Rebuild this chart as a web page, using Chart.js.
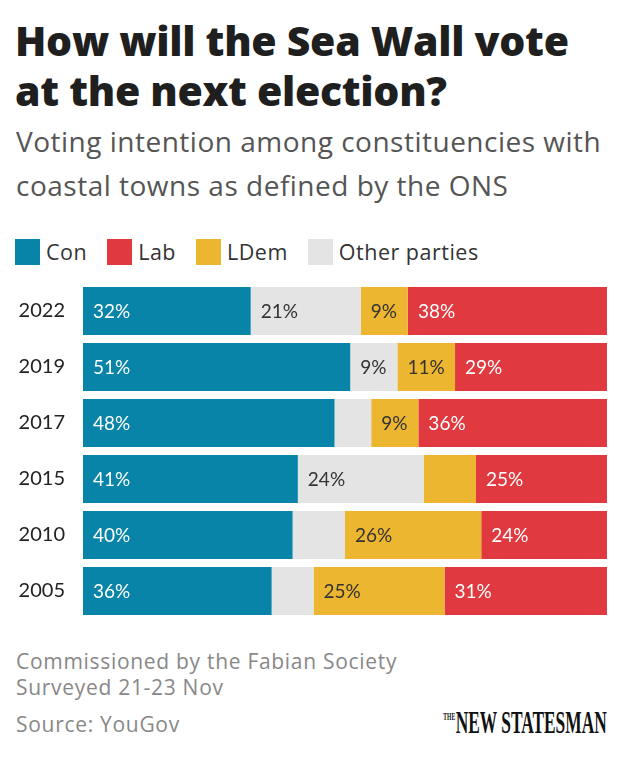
<!DOCTYPE html>
<html>
<head>
<meta charset="utf-8">
<script src="https://cdn.jsdelivr.net/npm/chart.js@4"></script>
<style>
  html, body { margin: 0; padding: 0; background: #fff; }
  body { width: 630px; height: 760px; position: relative; overflow: hidden; font-family: "Open Sans", "Noto Sans", sans-serif; }
  #title { position: absolute; left: 15px; top: 15px; font-size: 41px; font-weight: 800; line-height: 50px; color: #1f1f1f; letter-spacing: -0.3px; white-space: nowrap; }
  #subtitle { position: absolute; left: 16px; top: 119px; font-size: 28px; font-weight: 400; line-height: 44px; color: #555; letter-spacing: 0.5px; white-space: nowrap; }
  #legend { position: absolute; left: 15px; top: 237px; display: flex; align-items: center; font-size: 21.5px; letter-spacing: 0.5px; color: #333; }
  #legend .item { display: flex; align-items: center; margin-right: 20px; }
  #legend .sw { width: 25px; height: 26px; margin-right: 6px; }
  #chartWrap { position: absolute; left: 0; top: 283px; width: 630px; height: 336px; }
  #footer { position: absolute; left: 16px; top: 648px; font-size: 21px; color: #888; line-height: 26px; letter-spacing: 0.7px; white-space: nowrap; }
  #source { position: absolute; left: 16px; top: 710px; font-size: 21px; color: #888; letter-spacing: 0.7px; }
  #logo { position: absolute; right: 23px; top: 705px; font-family: "Liberation Serif", "DejaVu Serif", serif; font-weight: 700; color: #111; white-space: nowrap; transform-origin: right center; transform: scaleX(0.56); font-size: 31px; }
  #logo small { font-size: 10px; vertical-align: 13px; margin-right: 1px; }
</style>
</head>
<body>
<div id="title">How will the Sea Wall vote<br>at the next election?</div>
<div id="subtitle">Voting intention among constituencies with<br>coastal towns as defined by the ONS</div>
<div id="legend"></div>
<div id="chartWrap"><canvas id="c" width="630" height="336"></canvas></div>
<div id="footer">Commissioned by the Fabian Society<br>Surveyed 21-23 Nov</div>
<div id="source">Source: YouGov</div>
<div id="logo"><small>THE</small>NEW STATESMAN</div>
<script>
// ---- data ----
const years = ["2022", "2019", "2017", "2015", "2010", "2005"];
const con   = [32, 51, 48, 41, 40, 36];
const other = [21, 9, 7, 24, 10, 8];
const ldem  = [9, 11, 9, 10, 26, 25];
const lab   = [38, 29, 36, 25, 24, 31];
// labels not shown in the original (by series name, per year)
const hiddenLabels = { Other: ["2017", "2010", "2005"], LDem: ["2015"] };
const legendOrder = ["Con", "Lab", "LDem", "Other parties"];

const colors = { Con: "#0884a8", Lab: "#e0393f", LDem: "#edb630", Other: "#e4e4e4" };
const textColors = { Con: "#ffffff", Lab: "#ffffff", LDem: "#333333", Other: "#333333" };

// HTML legend
const legendEl = document.getElementById("legend");
const legendColor = { "Con": colors.Con, "Lab": colors.Lab, "LDem": colors.LDem, "Other parties": colors.Other };
legendOrder.forEach(name => {
  const it = document.createElement("div");
  it.className = "item";
  it.innerHTML = '<span class="sw" style="background:' + legendColor[name] + '"></span><span>' + name + '</span>';
  legendEl.appendChild(it);
});

const mk = (name, data) => ({
  label: name, data: data, backgroundColor: colors[name], borderWidth: 0,
  barPercentage: 1, categoryPercentage: 48 / 56
});

const labelPlugin = {
  id: "segLabels",
  afterDatasetsDraw(chart) {
    const ctx = chart.ctx;
    ctx.save();
    ctx.font = "400 19px Lato, 'Noto Sans', sans-serif";
    ctx.textBaseline = "middle";
    ctx.textAlign = "left";
    chart.data.datasets.forEach((ds, di) => {
      const meta = chart.getDatasetMeta(di);
      meta.data.forEach((bar, i) => {
        const hide = (hiddenLabels[ds.label] || []).includes(years[i]);
        if (hide) return;
        const left = Math.min(bar.x, bar.base);
        ctx.fillStyle = textColors[ds.label];
        ctx.fillText(ds.data[i] + "%", left + 10, bar.y + 1);
      });
    });
    ctx.restore();
  }
};

new Chart(document.getElementById("c"), {
  type: "bar",
  data: {
    labels: years,
    datasets: [mk("Con", con), mk("Other", other), mk("LDem", ldem), mk("Lab", lab)]
  },
  options: {
    indexAxis: "y",
    responsive: false,
    animation: false,
    layout: { padding: { left: 0, right: 23, top: 0, bottom: 0 } },
    plugins: { legend: { display: false }, tooltip: { enabled: false } },
    scales: {
      x: { stacked: true, min: 0, max: 100, display: false },
      y: {
        stacked: true,
        grid: { display: false, drawTicks: false },
        border: { display: false },
        ticks: { color: "#222", font: { family: "Lato, 'Noto Sans', sans-serif", size: 20 }, padding: 18 },
        afterFit(scale) { scale.width = 83; scale.paddingTop = 0; scale.paddingBottom = 0; }
      }
    }
  },
  plugins: [labelPlugin]
});
</script>
</body>
</html>
